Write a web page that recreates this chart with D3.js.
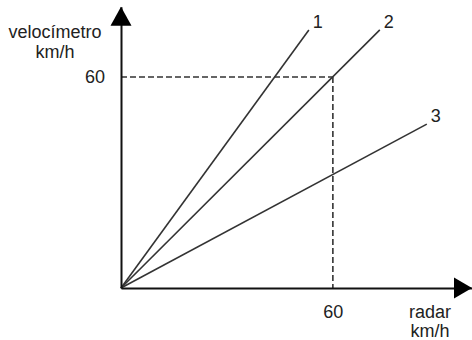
<!DOCTYPE html>
<html>
<head>
<meta charset="utf-8">
<script src="https://cdn.jsdelivr.net/npm/d3@7"></script>
<style>
  body { margin: 0; background: #fff; }
  text { font-family: "Liberation Sans", Arial, sans-serif; fill: #222; }
</style>
</head>
<body>
<svg id="chart" width="472" height="340"></svg>
<script>
// series: name, and the end point of each straight line from the origin
const lineNames = ["1", "2", "3"];
const lineEndX = [53.2, 73.3, 86.6];
const lineEndY = [73.4, 73.4, 46.6];
const markX = 60;
const markY = 60;
const xTickValues = [60];
const yTickValues = [60];

const svg = d3.select("#chart");
const x = d3.scaleLinear().domain([0, 99.4]).range([121, 472]);
const y = d3.scaleLinear().domain([0, 80]).range([288, 6.7]);

// dashed guides
const guide = svg.append("g")
    .attr("fill", "none")
    .attr("stroke", "#333")
    .attr("stroke-width", 1.6)
    .attr("stroke-dasharray", "6,3");
guide.append("path")
    .attr("d", d3.line()([[x(0), y(markY)], [x(markX), y(markY)]]));
guide.append("path")
    .attr("d", d3.line()([[x(markX), y(markY)], [x(markX), y(0)]]));

// lines from origin
const lines = lineNames.map((n, i) => ({ name: n, x: lineEndX[i], y: lineEndY[i] }));
svg.append("g").selectAll("line")
    .data(lines)
    .join("line")
    .attr("x1", x(0)).attr("y1", y(0))
    .attr("x2", d => x(d.x)).attr("y2", d => y(d.y))
    .attr("stroke", "#333")
    .attr("stroke-width", 1.6);

svg.append("g").selectAll("text")
    .data(lines)
    .join("text")
    .attr("x", d => x(d.x) + 9)
    .attr("y", d => y(d.y) - 2)
    .attr("text-anchor", "middle")
    .attr("font-size", 18)
    .text(d => d.name);

// axes
const xAxis = svg.append("g")
    .attr("transform", `translate(0,${y(0)})`)
    .call(d3.axisBottom(x).tickValues(xTickValues).tickSize(0).tickPadding(17));
const yAxis = svg.append("g")
    .attr("transform", `translate(${x(0)},0)`)
    .call(d3.axisLeft(y).tickValues(yTickValues).tickSize(0).tickPadding(16));

[xAxis, yAxis].forEach(a => {
    a.select(".domain").attr("stroke", "#111").attr("stroke-width", 2);
    a.selectAll(".tick text")
        .attr("font-size", 18)
        .attr("font-family", "Liberation Sans, Arial, sans-serif")
        .attr("fill", "#222");
});

// arrow heads
const xEnd = x.range()[1], yEnd = y.range()[1];
svg.append("path")
    .attr("d", `M${xEnd},${y(0)}L${xEnd - 18},${y(0) - 10.5}L${xEnd - 18},${y(0) + 10.5}Z`)
    .attr("fill", "#000");
svg.append("path")
    .attr("d", `M${x(0)},${yEnd}L${x(0) - 10.5},${yEnd + 19}L${x(0) + 10.5},${yEnd + 19}Z`)
    .attr("fill", "#000");

// axis titles
const yTitle = svg.append("text")
    .attr("text-anchor", "middle")
    .attr("font-size", 18);
yTitle.append("tspan").attr("x", 55).attr("y", 38).text("velocímetro");
yTitle.append("tspan").attr("x", 55).attr("y", 58).text("km/h");

const xTitle = svg.append("text")
    .attr("text-anchor", "middle")
    .attr("font-size", 18);
xTitle.append("tspan").attr("x", 430).attr("y", 318).text("radar");
xTitle.append("tspan").attr("x", 430).attr("y", 337).text("km/h");
</script>
</body>
</html>
